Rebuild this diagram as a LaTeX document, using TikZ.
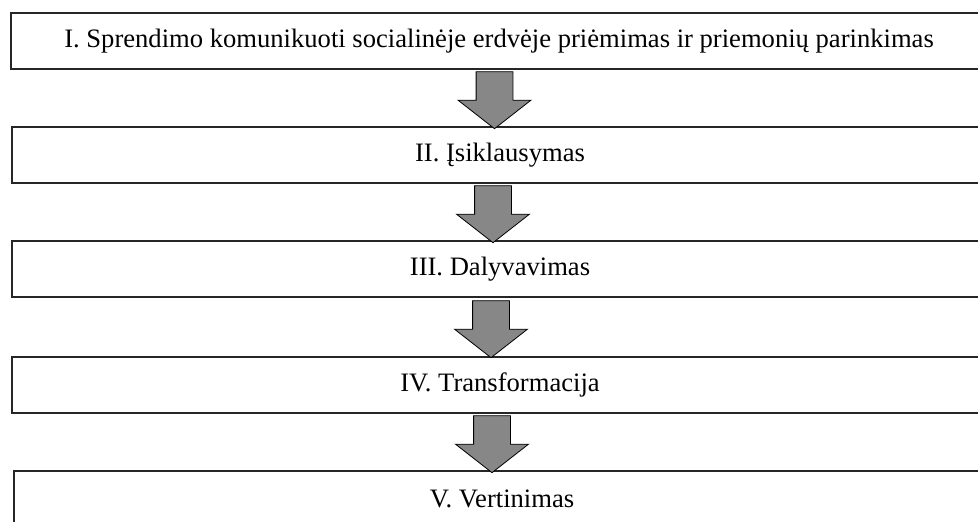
\documentclass[tikz,border=0pt]{standalone}
\usepackage{fontspec}
\setmainfont{Liberation Serif}
\usetikzlibrary{shapes.arrows,calc}

\tikzset{
  stage/.style={draw=black!85, line width=0.6pt, minimum width=488pt,
    minimum height=28pt, inner sep=0pt, font=\fontsize{13.3}{16}\selectfont},
  bigarrow/.style={single arrow, draw=black, line width=0.4pt, fill=black!47,
    rotate=-90, minimum height=28.5pt, inner xsep=0pt, inner ysep=9pt,
    single arrow head extend=9pt, single arrow tip angle=104}
}

\begin{document}
\begin{tikzpicture}[x=0.5pt,y=-0.5pt]
\useasboundingbox (0,0) rectangle (978,522);

\node[stage] (s1) at (499,41) {I. Sprendimo komunikuoti socialinėje erdvėje priėmimas ir priemonių parinkimas};
\node[stage] (s2) at (500,155) {II. Įsiklausymas};
\node[stage] (s3) at (500,269) {III. Dalyvavimas};
\node[stage] (s4) at (500,385) {IV. Transformacija};
\node[stage] (s5) at (502,499) {V. Vertinimas};

\node[bigarrow] (a1) at ($(s1.south)!0.5!(s2.north)+(-5,-5)$) {};
\node[bigarrow] (a2) at ($(s2.south)!0.5!(s3.north)+(-7,-5)$) {};
\node[bigarrow] (a3) at ($(s3.south)!0.5!(s4.north)+(-9,-5)$) {};
\node[bigarrow] (a4) at ($(s4.south)!0.5!(s5.north)+(-9,-5)$) {};

\end{tikzpicture}
\end{document}
